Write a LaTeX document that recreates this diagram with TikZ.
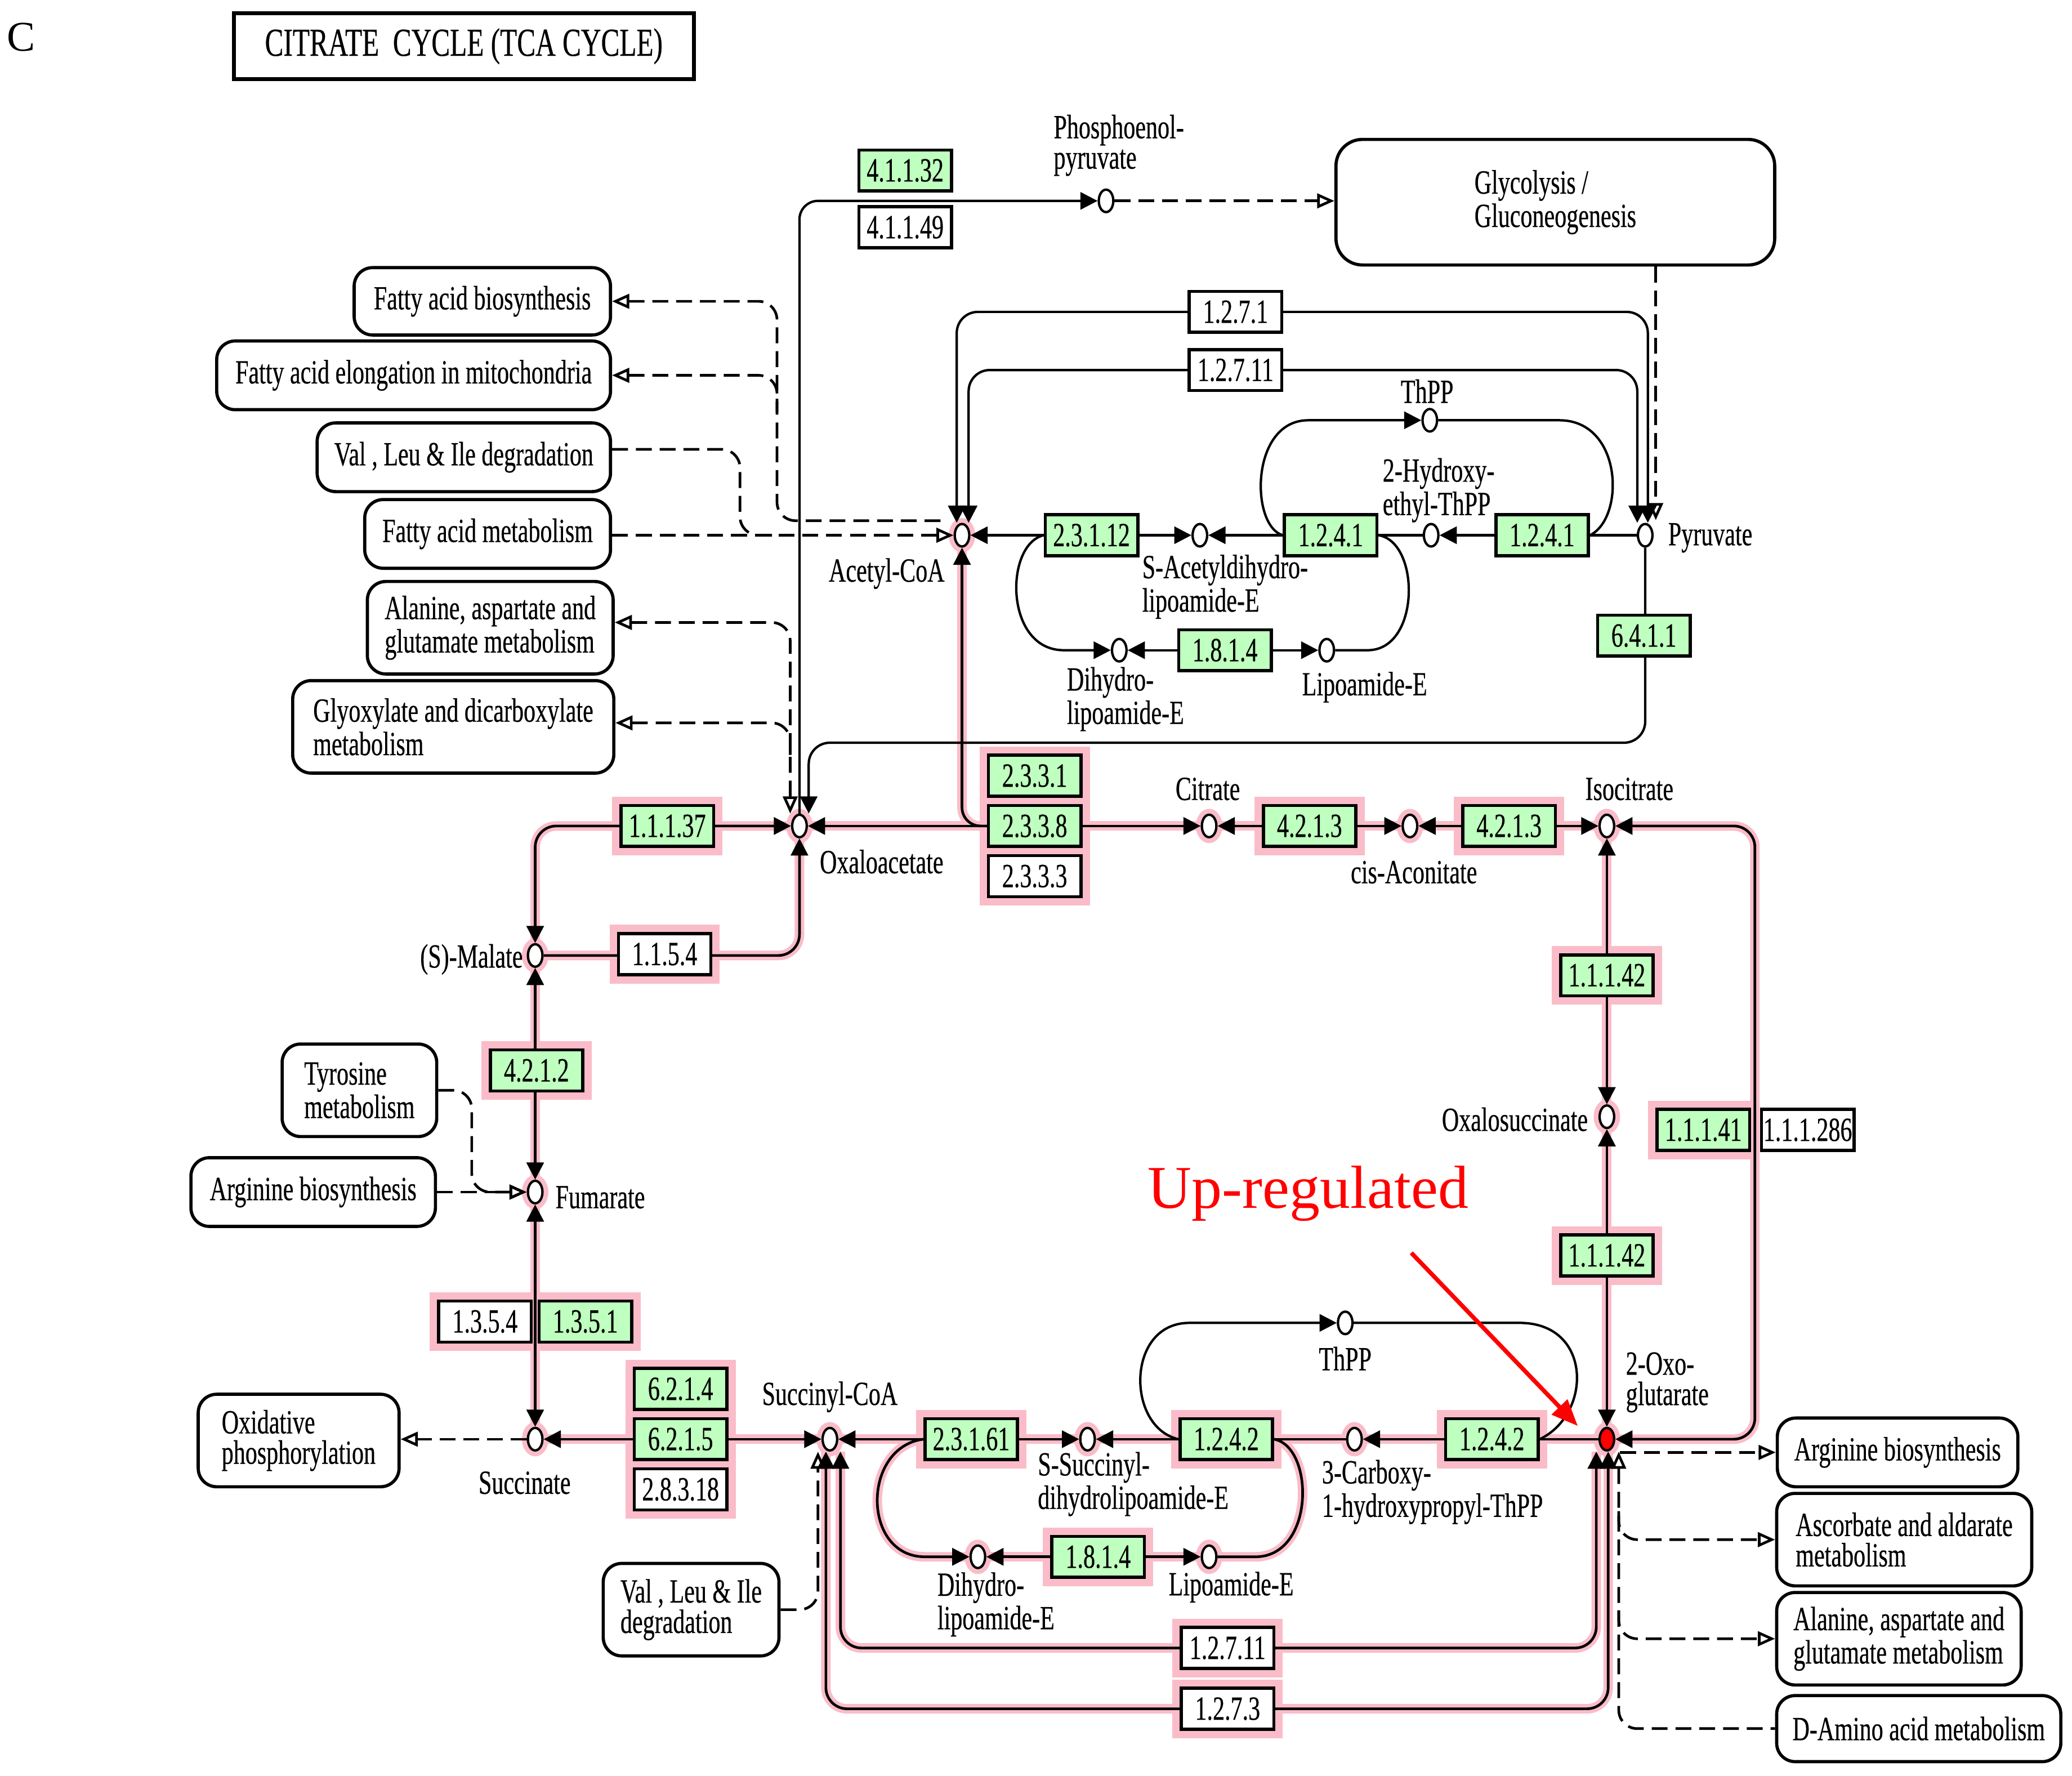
\documentclass[tikz,border=0pt]{standalone}
\usepackage{fontspec}
\setmainfont{Liberation Serif}
\newfontfamily\keggf[FakeStretch=0.7,FakeBold=0.4]{Liberation Serif}
\newcommand\kegg{\keggf\fontsize{12.8}{11.5}\selectfont}
\usetikzlibrary{arrows.meta,shapes.geometric,calc}
\pgfdeclarelayer{halo}
\pgfdeclarelayer{lines}
\pgfsetlayers{halo,lines,main}
\definecolor{kgreen}{RGB}{191,255,191}
\definecolor{kpink}{RGB}{250,188,200}
\tikzset{
  kt/.tip={Triangle[length=6.5pt,width=6.5pt]},
  ko/.tip={Triangle[open,length=6.5pt,width=5.5pt]},
  enz/.style={draw,line width=1.2pt,minimum width=35pt,minimum height=15.5pt,inner sep=0pt,font=\kegg},
  gz/.style={enz,fill=kgreen},
  wz/.style={enz,fill=white},
  met/.style={ellipse,draw,fill=white,line width=0.9pt,minimum width=5.5pt,minimum height=8.5pt,inner sep=0pt},
  pw/.style={draw,rounded corners=7pt,line width=1.2pt,fill=white,inner sep=0pt,font=\kegg,align=left},
  lab/.style={font=\kegg,inner sep=0pt,align=left},
  ln/.style={line width=0.9pt},
  dsh/.style={line width=1pt,dash pattern=on 6pt off 3pt},
}
\newcommand\cycpaths{%
  \path[pp,ab] (oaa.east) -- (cit.west);
  \path[pp,as,rounded corners=7pt] (accoa.south) -- (728,625) -- (760,625);
  \path[pp,ab] (cit.east) -- (cisac.west);
  \path[pp,ab] (cisac.east) -- (icit.west);
  \path[pp,ab,rounded corners=8pt] (icit.east) -- (1328,625) -- (1328,1089) -- (akg.east);
  \path[pp,ab] (icit.south) -- (oxs.north);
  \path[pp,ab] (oxs.south) -- (akg.north);
  \path[pp,ae] (akg.west) -- (carb.east);
  \path[pp,ae] (carb.west) -- (ssucc.east);
  \path[pp,ab] (ssucc.west) -- (succoa.east);
  \path[pp,ab] (succoa.west) -- (succ.east);
  \path[pp,ab] (succ.north) -- (fum.south);
  \path[pp,ab] (fum.north) -- (mal.south);
  \path[pp,ab,rounded corners=8pt] (mal.north) -- (405,625) -- (oaa.west);
  \path[pp,ae,rounded corners=8pt] (mal.east) -- (605,723) -- (oaa.south);
  \path[pp,ae] (e23161.west) .. controls (652,1095) and (652,1178) .. (700,1178) -- (dihyd2.west);
  \path[pp,ab] (dihyd2.east) -- (lipo2.west);
  \path[pp] (lipo2.east) -- (950,1178) .. controls (995,1178) and (995,1095) .. (e1242a.east);
  \path[pp,ab,rounded corners=8pt] ($(akg.south)+(-8,0)$) -- (1208,1247) -- (636,1247) -- ($(succoa.south)+(8,0)$);
  \path[pp,ab,rounded corners=8pt] ($(akg.south)+(1,0)$) -- (1217,1293) -- (625,1293) -- ($(succoa.south)+(-3,0)$);
}
\begin{document}
\begin{tikzpicture}[x=0.5pt,y=-0.5pt]
\useasboundingbox (0,0) rectangle (1568,1343.5);

% ---------- title ----------
\node[font=\fontsize{16}{16}\selectfont,inner sep=0pt] (panel) at (16,28) {C};
\node[draw,line width=1.5pt,minimum width=174pt,minimum height=25pt,inner sep=0pt,
      font=\keggf\fontsize{15}{15}\selectfont] (title) at (351,35) {CITRATE\ \ CYCLE (TCA CYCLE)};

% ---------- enzymes ----------
\node[gz] (e41132) at (685,129) {4.1.1.32};
\node[wz] (e41149) at (685,172) {4.1.1.49};
\node[wz] (e1271) at (935,236) {1.2.7.1};
\node[wz] (e12711a) at (935,280) {1.2.7.11};
\node[gz] (e23112) at (826,405) {2.3.1.12};
\node[gz] (e1241a) at (1007,405) {1.2.4.1};
\node[gz] (e1241b) at (1167,405) {1.2.4.1};
\node[gz] (e1814a) at (927,492) {1.8.1.4};
\node[gz] (e6411) at (1244,481) {6.4.1.1};

\node[gz] (e11137) at (505,625) {1.1.1.37};
\node[gz] (e2331) at (783,587) {2.3.3.1};
\node[gz] (e2338) at (783,625) {2.3.3.8};
\node[wz] (e2333) at (783,663) {2.3.3.3};
\node[gz] (e4213a) at (991,625) {4.2.1.3};
\node[gz] (e4213b) at (1142,625) {4.2.1.3};
\node[gz] (e11142a) at (1216,738) {1.1.1.42};
\node[gz] (e11142b) at (1216,950) {1.1.1.42};
\node[gz] (e11141) at (1289,855) {1.1.1.41};
\node[wz] (e111286) at (1368,855) {1.1.1.286};
\node[gz] (e1242b) at (1129,1089) {1.2.4.2};
\node[gz] (e1242a) at (928,1089) {1.2.4.2};
\node[gz] (e23161) at (735,1089) {2.3.1.61};
\node[gz] (e1814b) at (831,1178) {1.8.1.4};
\node[gz] (e6214) at (515,1051) {6.2.1.4};
\node[gz] (e6215) at (515,1089) {6.2.1.5};
\node[wz] (e28318) at (515,1127) {2.8.3.18};
\node[wz] (e1354) at (367,1000) {1.3.5.4};
\node[gz] (e1351) at (443,1000) {1.3.5.1};
\node[gz] (e4212) at (406,810) {4.2.1.2};
\node[wz] (e1154) at (503,722) {1.1.5.4};
\node[wz] (e12711b) at (929,1247) {1.2.7.11};
\node[wz] (e1273) at (929,1293) {1.2.7.3};

% ---------- metabolites ----------
\node[met] (pep) at (837,152) {};
\node[met] (accoa) at (728,405) {};
\node[met] (pyr) at (1245,405) {};
\node[met] (hethpp) at (1083,405) {};
\node[met] (sacet) at (908,405) {};
\node[met] (thpp1) at (1082,318) {};
\node[met] (dihyd1) at (847,492) {};
\node[met] (lipo1) at (1004,492) {};
\node[met] (oaa) at (605,625) {};
\node[met] (cit) at (915,625) {};
\node[met] (cisac) at (1067,625) {};
\node[met] (icit) at (1216,625) {};
\node[met] (oxs) at (1216,845) {};
\node[met,fill=red] (akg) at (1216,1089) {};
\node[met] (carb) at (1025,1089) {};
\node[met] (ssucc) at (823,1089) {};
\node[met] (succoa) at (628,1089) {};
\node[met] (succ) at (405,1089) {};
\node[met] (fum) at (405,902) {};
\node[met] (mal) at (405,723) {};
\node[met] (thpp2) at (1018,1001) {};
\node[met] (dihyd2) at (740,1178) {};
\node[met] (lipo2) at (915,1178) {};

% ---------- metabolite labels ----------
\node[lab,anchor=west] (lpep) at (797,110) {Phosphoenol-\\pyruvate};
\node[lab] (lthpp1) at (1080,296) {ThPP};
\node[lab,anchor=west] (lheth) at (1046,371) {2-Hydroxy-\\ethyl-ThPP};
\node[lab,anchor=west] (lpyr) at (1262,407) {Pyruvate};
\node[lab] (laccoa) at (671,434) {Acetyl-CoA};
\node[lab,anchor=west] (lsacet) at (864,444) {S-Acetyldihydro-\\lipoamide-E};
\node[lab,anchor=west] (ldihyd1) at (807,529) {Dihydro-\\lipoamide-E};
\node[lab,anchor=west] (llipo1) at (985,520) {Lipoamide-E};
\node[lab] (lcit) at (914,597) {Citrate};
\node[lab,anchor=west] (loaa) at (620,652) {Oxaloacetate};
\node[lab] (lcisac) at (1070,660) {cis-Aconitate};
\node[lab] (licit) at (1233,597) {Isocitrate};
\node[lab,anchor=east] (lmal) at (396,726) {(S)-Malate};
\node[lab,anchor=east] (loxs) at (1202,847) {Oxalosuccinate};
\node[lab,anchor=west] (lfum) at (420,906) {Fumarate};
\node[lab,anchor=west] (lakg) at (1230,1046) {2-Oxo-\\glutarate};
\node[lab] (lthpp2) at (1018,1028) {ThPP};
\node[lab,anchor=west] (lcarb) at (1000,1129) {3-Carboxy-\\1-hydroxypropyl-ThPP};
\node[lab,anchor=west] (lssucc) at (785,1123) {S-Succinyl-\\dihydrolipoamide-E};
\node[lab] (lsuccoa) at (628,1057) {Succinyl-CoA};
\node[lab] (lsucc) at (397,1122) {Succinate};
\node[lab,anchor=west] (ldihyd2) at (709,1214) {Dihydro-\\lipoamide-E};
\node[lab,anchor=west] (llipo2) at (884,1201) {Lipoamide-E};

% ---------- pathway boxes ----------
\node[pw,minimum width=97pt,minimum height=25.5pt] (fab) at (365,228) {Fatty acid biosynthesis};
\node[pw,minimum width=149pt,minimum height=26pt] (fae) at (313,284) {Fatty acid elongation in mitochondria};
\node[pw,minimum width=111pt,minimum height=26pt] (vli1) at (351,346) {Val , Leu \& Ile degradation};
\node[pw,minimum width=93pt,minimum height=26pt] (fam) at (369,404) {Fatty acid metabolism};
\node[pw,minimum width=93pt,minimum height=35pt] (ala1) at (371,475) {Alanine, aspartate and\\glutamate metabolism};
\node[pw,minimum width=121.5pt,minimum height=35pt] (gly) at (343,550) {Glyoxylate and dicarboxylate\\metabolism};
\node[pw,minimum width=166pt,minimum height=47.5pt,rounded corners=10pt] (glyc) at (1177,153) {Glycolysis /\\Gluconeogenesis};
\node[pw,minimum width=58.5pt,minimum height=35pt] (tyr) at (272,825) {Tyrosine\\metabolism};
\node[pw,minimum width=92.5pt,minimum height=26pt] (arg1) at (237,902) {Arginine biosynthesis};
\node[pw,minimum width=76pt,minimum height=35pt] (oxp) at (226,1090) {Oxidative\\phosphorylation};
\node[pw,minimum width=66.5pt,minimum height=35pt] (vli2) at (523,1218) {Val , Leu \& Ile\\degradation};
\node[pw,minimum width=91pt,minimum height=26pt] (arg2) at (1436,1099) {Arginine biosynthesis};
\node[pw,minimum width=96.5pt,minimum height=35pt] (asc) at (1441,1165) {Ascorbate and aldarate\\metabolism};
\node[pw,minimum width=92.5pt,minimum height=35pt] (ala2) at (1437,1240) {Alanine, aspartate and\\glutamate metabolism};
\node[pw,minimum width=107.5pt,minimum height=25pt] (dam) at (1452,1308) {D-Amino acid metabolism};

% ---------- highlight layer ----------
\begin{pgfonlayer}{halo}
  \fill[white] (0,0) rectangle (1568,1343.5);
  \foreach \n in {e11137,e2331,e2338,e2333,e4213a,e4213b,e11142a,e11142b,e11141,
                  e1242b,e1242a,e23161,e1814b,e6214,e6215,e28318,e1354,e1351,
                  e4212,e1154,e12711b,e1273}
    \fill[kpink] ([shift={(-5.5,5.5)}]\n.south west) rectangle ([shift={(5.5,-5.5)}]\n.north east);
  \foreach \n in {oaa,cit,cisac,icit,oxs,akg,carb,ssucc,succoa,succ,fum,mal,dihyd2,lipo2,accoa}
    \fill[kpink] (\n) ellipse (5pt and 6.5pt);
  \begin{scope}[pp/.style={draw=kpink,line width=3.6pt},ae/.style={},as/.style={},ab/.style={}]
    \cycpaths
  \end{scope}
\end{pgfonlayer}

% ---------- connectors ----------
\begin{pgfonlayer}{lines}
  \begin{scope}[pp/.style={draw=black,line width=1pt},ae/.style={-{kt}},as/.style={{kt}-},ab/.style={{kt}-{kt}}]
    \cycpaths
  \end{scope}
  % top, black
  \draw[ln,-{kt},rounded corners=7pt] (oaa.north) -- (605,152) -- (pep.west);
  \draw[dsh,-{ko}] (pep.east) -- (glyc.west |- pep.east);
  \draw[dsh,-{ko}] ($(pyr.north |- glyc.south)+(8,0)$) -- ($(pyr.north)+(8,-2)$);
  \draw[ln,{kt}-{kt},rounded corners=8pt] ($(pyr.north)+(2,0)$) -- (1247,236) -- (724,236) -- ($(accoa.north)+(-4,0)$);
  \draw[ln,{kt}-{kt},rounded corners=8pt] ($(pyr.north)+(-6,0)$) -- (1239,280) -- (733,280) -- ($(accoa.north)+(5,0)$);
  \draw[ln,-{kt}] (pyr.west) -- (hethpp.east);
  \draw[ln,-{kt}] (hethpp.west) -- (sacet.east);
  \draw[ln,{kt}-{kt}] (sacet.west) -- (accoa.east);
  \draw[ln,-{kt}] (e1241a.west) .. controls (946,398) and (946,318) .. (990,318) -- (thpp1.west);
  \draw[ln] (thpp1.east) -- (1180,318) .. controls (1228,318) and (1230,392) .. (e1241b.east);
  \draw[ln,-{kt}] (e23112.west) .. controls (760,412) and (760,492) .. (805,492) -- (dihyd1.west);
  \draw[ln,{kt}-{kt}] (dihyd1.east) -- (lipo1.west);
  \draw[ln] (lipo1.east) -- (1035,492) .. controls (1075,492) and (1075,410) .. (e1241a.east);
  \draw[ln,-{kt},rounded corners=8pt] (pyr.south) -- (1245,562) -- (612,562) -- ($(oaa.north)+(7,0)$);
  % left dashed
  \draw[dsh,{ko}-,rounded corners=7pt] (fab.east) -- (588,228) -- (588,394) -- ($(accoa.west)+(-6,-11)$);
  \draw[dsh,{ko}-,rounded corners=7pt] (fae.east) -- (588,284) -- (588,312);
  \draw[dsh,rounded corners=7pt] ($(vli1.east)+(0,-6)$) -- (560,340) -- (560,405) -- (590,405);
  \draw[dsh,-{ko}] (fam.east |- accoa.west) -- (accoa.west);
  \draw[dsh,{ko}-{ko},rounded corners=7pt] ($(ala1.east)+(0,-4)$) -- (598,471) -- ($(oaa.north)+(-7,0)$);
  \draw[dsh,{ko}-,rounded corners=7pt] ($(gly.east)+(0,-3)$) -- (598,547) -- (598,575);
  % bottom black
  \draw[ln,-{kt}] (e1242a.west) .. controls (852,1080) and (852,1001) .. (900,1001) -- (thpp2.west);
  \draw[ln] (thpp2.east) -- (1150,1001) .. controls (1205,1001) and (1205,1070) .. (e1242b.east);
  % bottom dashed
  \draw[dsh,-{ko}] (succ.west) -- (oxp.east |- succ.west);
  \draw[dsh,-{ko},rounded corners=7pt] (tyr.east) -- (357,825) -- (357,902) -- (fum.west);
  \draw[dsh,-{ko}] (arg1.east) -- (fum.west);
  \draw[dsh,-{ko},rounded corners=7pt] (vli2.east) -- (619,1218) -- ($(succoa.south)+(-9,0)$);
  \draw[dsh,-{ko}] ($(akg.center)+(10,10)$) -- (arg2.west);
  \draw[dsh,{ko}-,rounded corners=7pt] ($(akg.south)+(9,0)$) -- (1225,1308) -- (dam.west);
  \draw[dsh,-{ko},rounded corners=7pt] ($(akg.south)+(9,45)$) -- (1225,1165) -- (asc.west);
  \draw[dsh,-{ko},rounded corners=7pt] ($(akg.south)+(9,120)$) -- (1225,1240) -- (ala2.west);
\end{pgfonlayer}

% ---------- annotation ----------
\node[font=\fontsize{23}{23}\selectfont,text=red,inner sep=0pt] (up) at (990,903) {Up-regulated};
\coordinate (upstart) at (1068,948);
\draw[red,line width=1.6pt,-{Triangle[length=10pt,width=8pt]}] (upstart) -- ($(akg.center)+(-22,-10)$);
\end{tikzpicture}
\end{document}
